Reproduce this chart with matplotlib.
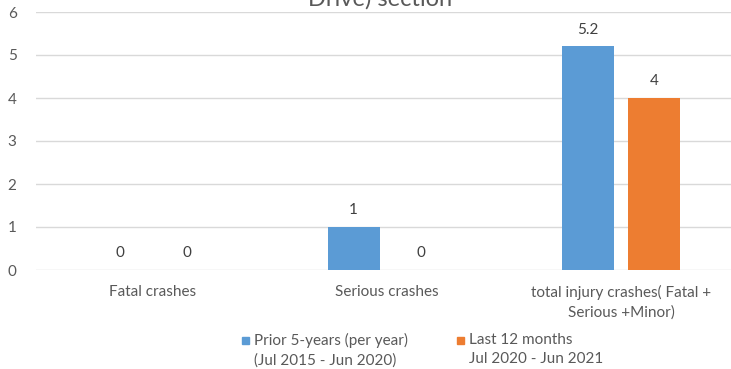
import matplotlib.pyplot as plt
from matplotlib.patches import Rectangle
import numpy as np

categories = ["Fatal crashes", "Serious crashes", "total injury crashes( Fatal +\nSerious +Minor)"]
prior_5yr = [0, 1, 5.2]
last_12m = [0, 0, 4]
series_labels = ["Prior 5-years (per year)\n(Jul 2015 - Jun 2020)",
                 "Last 12 months\nJul 2020 - Jun 2021"]
series_colors = ['#5B9BD5', '#ED7D31']
title_text = "Drive) section"

plt.rcParams['font.family'] = ['Lato', 'DejaVu Sans']
grey = '#595959'

W, H = 731, 369
fig = plt.figure(figsize=(W / 100, H / 100), dpi=100)
# plot area runs a little past the right edge, as in the original
ax = fig.add_axes([36 / W, 99 / H, 702 / W, 258 / H])

x = np.arange(len(categories))
w = 0.222
off = 0.143
b1 = ax.bar(x - off, prior_5yr, w, color=series_colors[0], zorder=3)
b2 = ax.bar(x + off, last_12m, w, color=series_colors[1], zorder=3)

for bars in (b1, b2):
    for r in bars:
        h = r.get_height()
        ax.annotate(f"{h:g}", (r.get_x() + r.get_width() / 2, h), xytext=(0, 7),
                    textcoords='offset points', ha='center', va='bottom',
                    fontsize=11, color='#404040')

ax.set_xlim(-0.5, 2.5)
ax.set_ylim(0, 6)
ax.set_yticks(range(7))
ax.grid(axis='y', color='#D9D9D9', linewidth=1, zorder=0)
ax.set_xticks(x)
ax.set_xticklabels(categories, fontsize=11, color=grey, linespacing=1.4)
ax.tick_params(axis='both', length=0, labelcolor=grey, labelsize=11)
ax.tick_params(axis='x', pad=11)
ax.tick_params(axis='y', pad=14)
for s in ax.spines.values():
    s.set_visible(False)

fig.text(380 / W, 1 - 6 / H, title_text, ha='center', va='baseline', fontsize=17, color=grey)

# legend drawn by hand so the square sits beside the first text line
for lbl, col, sx in zip(series_labels, series_colors, [242, 457]):
    fig.add_artist(Rectangle((sx / W, 1 - 344 / H), 7 / W, 7 / H,
                             transform=fig.transFigure, color=col))
    fig.text((sx + 12) / W, 1 - 333 / H, lbl, ha='left', va='top',
             fontsize=11, color=grey, linespacing=1.45)

fig.savefig('out.png', dpi=100)
